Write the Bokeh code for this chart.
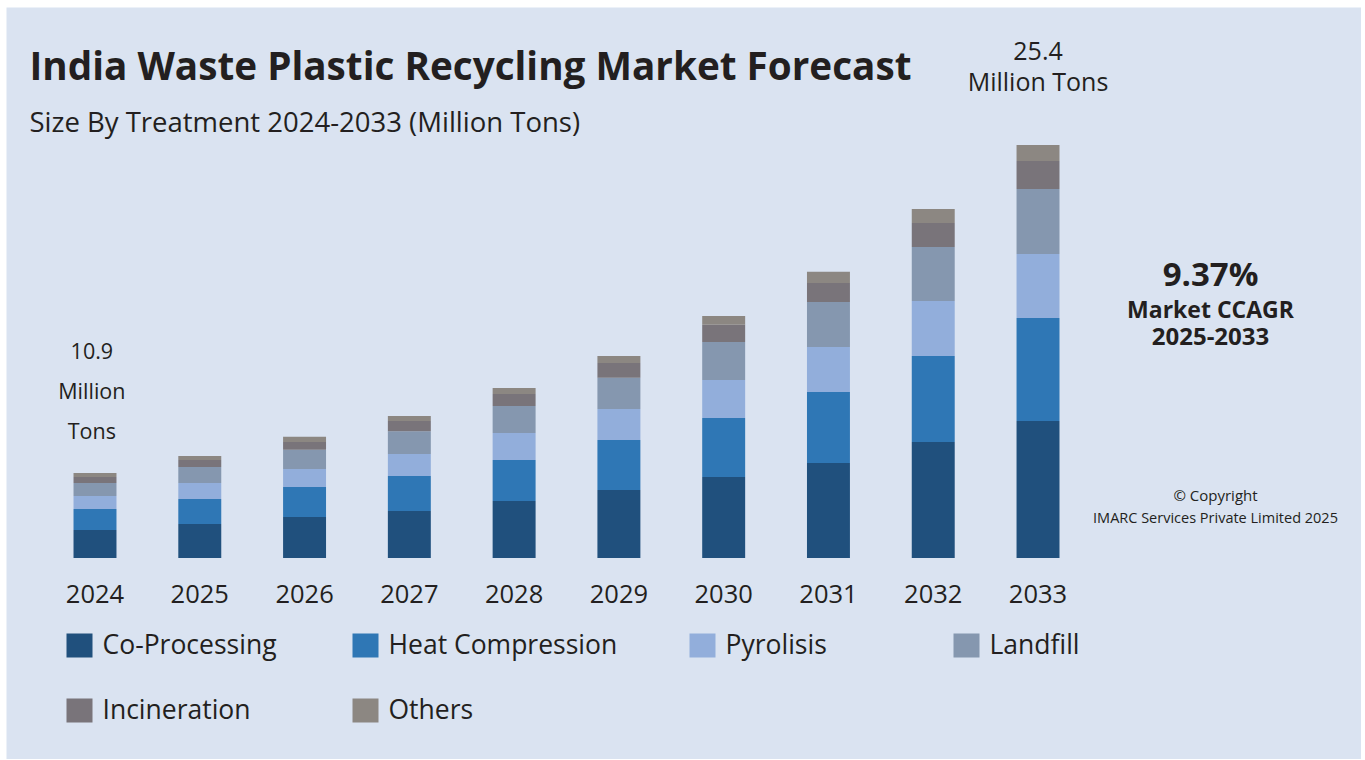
from bokeh.plotting import figure
from bokeh.models import ColumnDataSource, Range1d
from bokeh.embed import file_html
from bokeh.resources import INLINE
from bokeh.core.properties import value

# ---------------- data ----------------
years = ["2024", "2025", "2026", "2027", "2028", "2029", "2030", "2031", "2032", "2033"]
co_processing    = [1.72, 2.09, 2.52, 2.89, 3.51, 4.18, 4.98, 5.84, 7.13, 8.43]
heat_compression = [1.29, 1.54, 1.85, 2.15, 2.52, 3.08, 3.63, 4.37, 5.29, 6.33]
pyrolisis        = [0.80, 0.98, 1.11, 1.35, 1.66, 1.91, 2.34, 2.77, 3.38, 3.94]
landfill         = [0.80, 0.98, 1.17, 1.41, 1.66, 1.91, 2.34, 2.77, 3.32, 4.00]
incineration     = [0.37, 0.43, 0.49, 0.62, 0.74, 0.92, 1.05, 1.17, 1.48, 1.72]
others           = [0.25, 0.25, 0.31, 0.31, 0.37, 0.43, 0.55, 0.68, 0.86, 0.98]
series_names = ["Co-Processing", "Heat Compression", "Pyrolisis", "Landfill", "Incineration", "Others"]
series_keys = ["co", "heat", "pyro", "land", "inc", "oth"]
colors = ["#20507D", "#2F77B5", "#92AEDB", "#8597AF", "#79747A", "#8C8782"]
first_total_label = ["10.9", "Million", "Tons"]
last_total_label = ["25.4", "Million Tons"]

# ---------------- layout ----------------
FL, FT = 6, 7            # panel offset inside the page
FW, FH = 1355, 752       # panel (frame) size
BG = "#DAE3F1"
TXT = "#231F20"
PXU = 104.78    # pixels per category
PYU = 16.26     # pixels per unit
X0 = -(94.5 - FL) / PXU
Y0 = -(FH - (557.5 - FT)) / PYU

def X(px):
    return X0 + (px - FL) / PXU

def Y(py):
    return Y0 + (FH - (py - FT)) / PYU

p = figure(width=FL + FW, height=FT + FH, output_backend="svg", toolbar_location=None,
           x_range=Range1d(X0, X0 + FW / PXU), y_range=Range1d(Y0, Y0 + FH / PYU),
           x_axis_type=None, y_axis_type=None,
           min_border_left=FL, min_border_top=FT, min_border_right=0, min_border_bottom=0,
           background_fill_color=BG, border_fill_color="white")
p.outline_line_color = None
p.grid.visible = False

xs = list(range(len(years)))
src = ColumnDataSource(dict(x=xs, year=years, co=co_processing, heat=heat_compression,
                            pyro=pyrolisis, land=landfill, inc=incineration, oth=others))
p.vbar_stack(series_keys, x="x", width=0.41, source=src, color=colors, line_color=None)

def txt(px, py, s, size, bold=False, align="left", color=TXT, font="Open Sans"):
    p.text(x=[X(px)], y=[Y(py)], text=[s], text_font=value(font),
           text_font_size=f"{size}px", text_font_style="bold" if bold else "normal",
           text_align=align, text_baseline="middle", text_color=color)

# year labels
p.text(x=xs, y=[Y(593)] * len(xs), text=years, text_font=value("Open Sans"),
       text_font_size="25.5px", text_align="center", text_baseline="middle", text_color=TXT)

# titles
txt(29, 64, "India Waste Plastic Recycling Market Forecast", 38.7, bold=True)
txt(29, 121, "Size By Treatment 2024-2033 (Million Tons)", 27.5)

# total labels
for s, py in zip(first_total_label, [350, 390, 430]):
    p.text(x=[xs[0] - 0.03], y=[Y(py)], text=[s], text_font=value("Open Sans"), text_font_size="21.5px",
           text_align="center", text_baseline="middle", text_color=TXT)
for s, py in zip(last_total_label, [50, 80]):
    p.text(x=[xs[-1]], y=[Y(py)], text=[s], text_font=value("Open Sans"), text_font_size="25px",
           text_align="center", text_baseline="middle", text_color=TXT)

# CAGR block
txt(1210, 273, "9.37%", 33, bold=True, align="center")
txt(1210, 308, "Market CCAGR", 23, bold=True, align="center")
txt(1210, 336, "2025-2033", 24, bold=True, align="center")
txt(1215, 494, "\u00a9 Copyright", 15, align="center")
txt(1215, 517, "IMARC Services Private Limited 2025", 14.5, align="center")

# legend
leg_pos = [(66, 645), (352, 645), (689, 645), (953, 645), (66, 710), (352, 710)]
for (lx, ly), name, c in zip(leg_pos, series_names, colors):
    p.rect(x=[X(lx + 13)], y=[Y(ly)], width=26, height=24, width_units="screen",
           height_units="screen", color=c, line_color=None)
    txt(lx + 36, ly - 2, name, 26.5)

open("out.html", "w").write(file_html(p, INLINE))
